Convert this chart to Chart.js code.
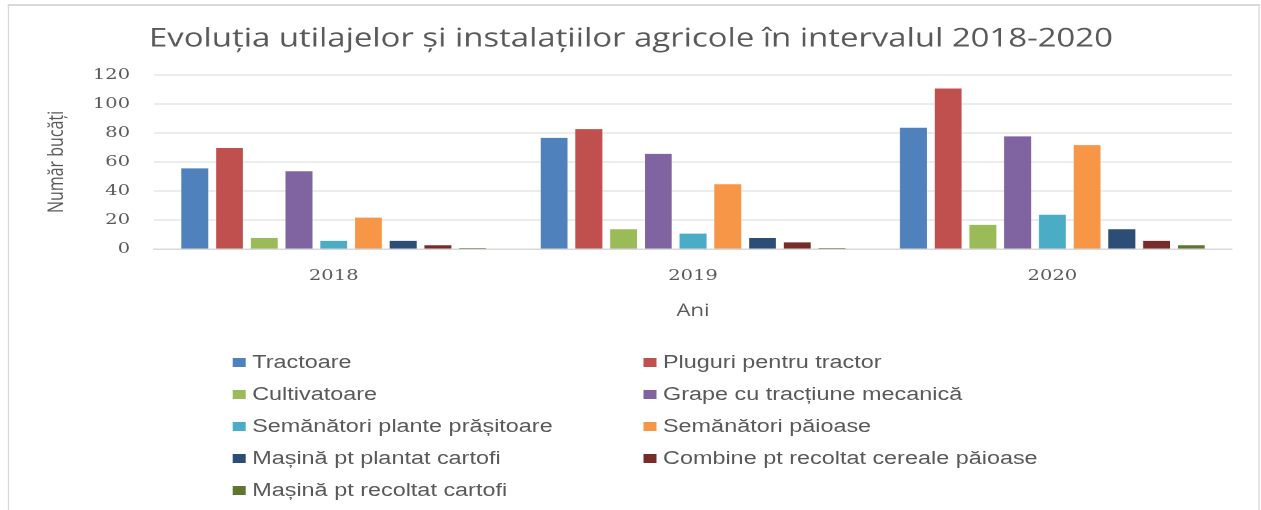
<!DOCTYPE html>
<html>
<head>
<meta charset="utf-8">
<script src="https://cdn.jsdelivr.net/npm/chart.js@4/dist/chart.umd.min.js"></script>
<style>
html,body{margin:0;padding:0;background:#fff;overflow:hidden;width:1261px;height:510px;}
#stage{position:absolute;left:0;top:0;width:970px;height:510px;transform:scaleX(1.3);transform-origin:0 0;background:#fff;}
#frame{position:absolute;left:5.6px;top:4px;width:963.6px;height:530px;border:1.5px solid #d9d9d9;border-top-width:2px;border-bottom:none;box-sizing:border-box;}
#chart{position:absolute;left:0;top:0;}
#legend{position:absolute;left:0;top:0;width:970px;height:510px;font-family:"Liberation Sans",Arial,sans-serif;font-size:18px;color:#595959;}
.item{position:absolute;display:flex;align-items:center;white-space:nowrap;height:20px;line-height:20px;}
.sw{width:9.5px;height:9px;margin-right:5.5px;flex:none;}
</style>
</head>
<body>
<div id="stage">
  <div id="frame"></div>
  <canvas id="chart" width="970" height="510"></canvas>
  <div id="legend"></div>
</div>
<script>
// ---- data ----
const categories = ['2018', '2019', '2020'];
const tractoare = [56, 77, 84];
const pluguri = [70, 83, 111];
const cultivatoare = [8, 14, 17];
const grape = [54, 66, 78];
const semanatoriPrasitoare = [6, 11, 24];
const semanatoriPaioase = [22, 45, 72];
const masinaPlantat = [6, 8, 14];
const combine = [3, 5, 6];
const masinaRecoltat = [1, 1, 3];
const seriesNames = [
  'Tractoare',
  'Pluguri  pentru tractor',
  'Cultivatoare',
  'Grape cu tracțiune mecanică',
  'Semănători plante prășitoare',
  'Semănători păioase',
  'Mașină pt plantat cartofi',
  'Combine pt recoltat cereale păioase',
  'Mașină pt recoltat cartofi'
];
const yTicks = [0, 20, 40, 60, 80, 100, 120];
const chartTitle = 'Evoluția utilajelor și instalațiilor agricole în intervalul 2018-2020';
const xTitle = 'Ani';
const yTitle = 'Număr bucăți';

// ---- styles ----
const palette = ['#4F81BD', '#C0504D', '#9BBB59', '#8064A2', '#4BACC6', '#F79646', '#2C4D75', '#772C2A', '#5F7530'];
const seriesValues = [tractoare, pluguri, cultivatoare, grape, semanatoriPrasitoare, semanatoriPaioase, masinaPlantat, combine, masinaRecoltat];
const textColor = '#595959';
const gridColor = '#d9d9d9';

const datasets = seriesValues.map((vals, i) => ({
  label: seriesNames[i],
  data: vals,
  backgroundColor: palette[i],
  borderColor: 'rgba(255,255,255,0.35)',
  borderWidth: 0.6,
  barPercentage: 0.82,
  categoryPercentage: 0.87
}));

const chart = new Chart(document.getElementById('chart'), {
  type: 'bar',
  data: { labels: categories, datasets },
  options: {
    responsive: false,
    animation: false,
    devicePixelRatio: 2,
    layout: { padding: { left: 23, right: 22.3, top: 0, bottom: 188.8 } },
    plugins: {
      legend: { display: false },
      tooltip: { enabled: false },
      title: {
        display: true,
        text: chartTitle,
        color: textColor,
        font: { family: '"Open Sans", sans-serif', size: 25.3, weight: 'normal' },
        padding: { top: 24, bottom: 20.5 }
      }
    },
    scales: {
      x: {
        grid: { display: false, drawTicks: false },
        border: { display: true, color: gridColor, width: 1.5 },
        ticks: { padding: 18, color: textColor, font: { family: '"DejaVu Serif", serif', size: 15 } },
        title: { display: true, text: xTitle, color: textColor, font: { family: '"Open Sans", sans-serif', size: 17 }, padding: { top: 0, bottom: 0 } },
        afterFit(s) { s.height = 72.2; }
      },
      y: {
        min: yTicks[0],
        max: yTicks[yTicks.length - 1],
        afterBuildTicks(s) { s.ticks = yTicks.map(v => ({ value: v })); },
        ticks: { padding: 18.5, color: textColor, font: { family: '"DejaVu Serif", serif', size: 15 } },
        grid: { color: gridColor, lineWidth: 1, drawTicks: false },
        border: { display: false },
        title: { display: true, text: yTitle, color: textColor, font: { family: '"Open Sans", sans-serif', size: 16 }, padding: { top: 11.5, bottom: 0 } },
        afterFit(s) { s.width = 95.5; }
      }
    }
  }
});

// ---- legend (two columns) ----
const legendEl = document.getElementById('legend');
const colLeft = [179, 495];
const rowCenter0 = 362, rowStep = 32;
seriesNames.forEach((name, i) => {
  const col = i % 2, row = Math.floor(i / 2);
  const item = document.createElement('div');
  item.className = 'item';
  item.style.left = colLeft[col] + 'px';
  item.style.top = (rowCenter0 + row * rowStep - 10) + 'px';
  const sw = document.createElement('span');
  sw.className = 'sw';
  sw.style.background = palette[i];
  const tx = document.createElement('span');
  tx.textContent = name;
  item.appendChild(sw);
  item.appendChild(tx);
  legendEl.appendChild(item);
});
</script>
</body>
</html>
